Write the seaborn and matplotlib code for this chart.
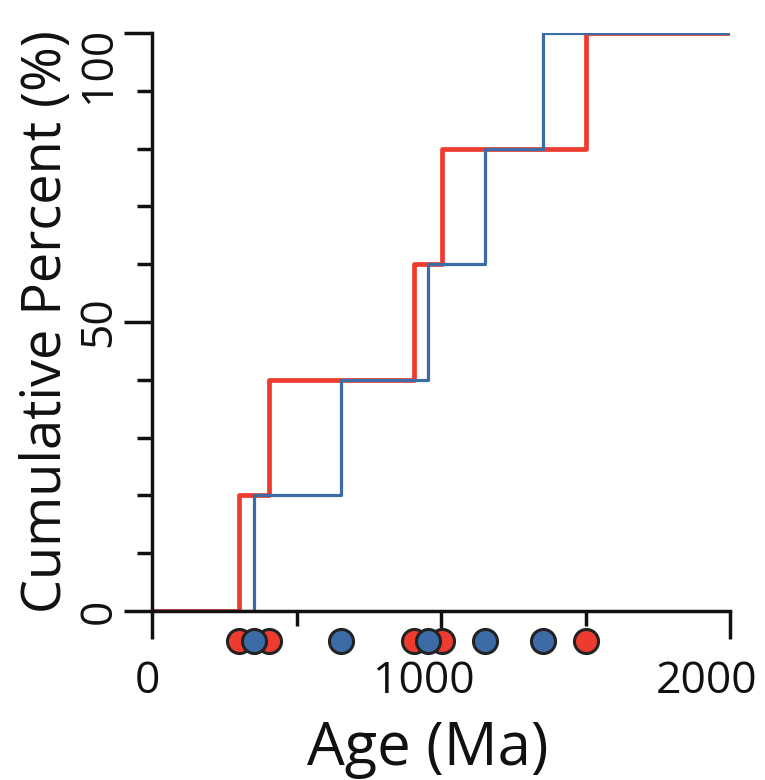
import numpy as np
import pandas as pd
import matplotlib
matplotlib.use("Agg")
import matplotlib.pyplot as plt
import matplotlib.transforms as mtransforms
import seaborn as sns

# Data (ages in Ma)
red_ages = [300, 405, 905, 1003, 1502]
blue_ages = [352, 655, 955, 1153, 1352]
x_ticks = [0, 1000, 2000]
x_minor = [500, 1500]
y_ticks = [0, 50, 100]
y_minor = [10, 20, 30, 40, 60, 70, 80, 90]
red_color = "#EE3B2F"
blue_color = "#3B6CA6"

sns.set_theme(style="white")
plt.rcParams['font.family'] = ['Open Sans', 'DejaVu Sans']

def step_frame(ages, xmin=0, xmax=2000):
    ages = sorted(ages)
    n = len(ages)
    xs = [xmin] + ages + [xmax]
    ys = [0] + [100.0 * (i + 1) / n for i in range(n)] + [100.0]
    return pd.DataFrame({"x": xs, "y": ys})

fig = plt.figure(figsize=(7.65, 7.8), dpi=100)
ax = fig.add_axes([152/765, 1-611/780, (730-152)/765, (611-33)/780])

sns.lineplot(data=step_frame(red_ages), x="x", y="y", ax=ax, color=red_color,
             linewidth=3.4, drawstyle="steps-post", estimator=None, sort=False)
sns.lineplot(data=step_frame(blue_ages), x="x", y="y", ax=ax, color=blue_color,
             linewidth=2.3, drawstyle="steps-post", estimator=None, sort=False)

marker_y = -5.2
sns.scatterplot(x=red_ages, y=[marker_y]*len(red_ages), ax=ax, color=red_color,
                s=300, edgecolor="#222222", linewidth=2.2, clip_on=False, zorder=5)
sns.scatterplot(x=blue_ages, y=[marker_y]*len(blue_ages), ax=ax, color=blue_color,
                s=300, edgecolor="#222222", linewidth=2.2, clip_on=False, zorder=6)

ax.set_xlim(0, 2000)
ax.set_ylim(0, 100)
for s in ["top", "right"]:
    ax.spines[s].set_visible(False)
for s in ["left", "bottom"]:
    ax.spines[s].set_color("#111111")
    ax.spines[s].set_linewidth(2.5)

ax.set_xticks(x_ticks)
ax.set_xticks(x_minor, minor=True)
ax.set_yticks(y_ticks)
ax.set_yticks(y_minor, minor=True)
ax.set_xticklabels([str(v) for v in x_ticks])
ax.set_yticklabels([str(v) for v in y_ticks], rotation=90, va="center")
ax.tick_params(axis="both", which="both", bottom=True, left=True, top=False, right=False)
ax.tick_params(axis="both", which="major", direction="out", length=20, width=2.5,
               color="#111111", labelsize=32, labelcolor="#111111")
ax.tick_params(axis="both", which="minor", direction="out", length=11, width=2.5,
               color="#111111")
ax.tick_params(axis="x", which="major", pad=15)
ax.tick_params(axis="y", which="major", pad=2)

# fine horizontal offsets of x tick labels as in the reference
x_offsets = [-5, -17, -23]
for lbl, dx in zip(ax.get_xticklabels(), x_offsets):
    lbl.set_transform(lbl.get_transform() +
                      mtransforms.ScaledTranslation(dx/100, 0, fig.dpi_scale_trans))
# top y label shifted down so it stays inside the figure
ylbls = ax.get_yticklabels()
ylbls[-1].set_va("top")
ylbls[-1].set_transform(ylbls[-1].get_transform() +
                        mtransforms.ScaledTranslation(0, 6/100, fig.dpi_scale_trans))

ax.set_xlabel("Age (Ma)", fontsize=43, color="#111111")
ax.xaxis.set_label_coords((428-152)/578, (611-719)/578)
ax.set_ylabel("Cumulative Percent (%)", fontsize=39, color="#111111", labelpad=2)
ax.grid(False)

fig.savefig("out.png", dpi=100)
